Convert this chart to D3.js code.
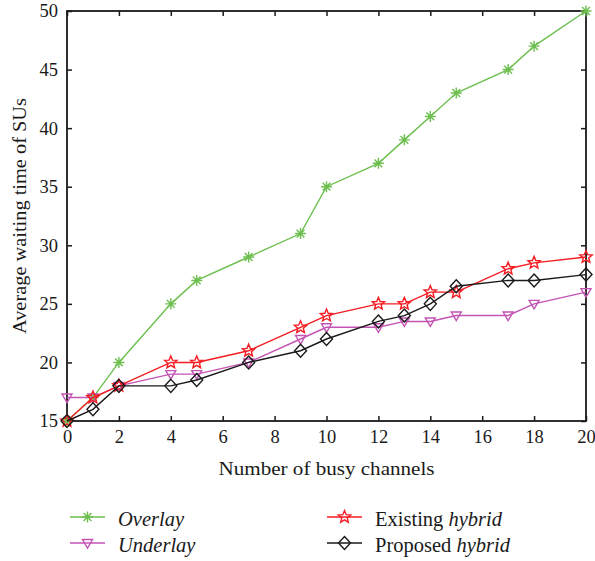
<!DOCTYPE html>
<html>
<head>
<meta charset="utf-8">
<script src="https://cdn.jsdelivr.net/npm/d3@7"></script>
<style>
  body { margin: 0; background: #fff; }
  text { font-family: "Liberation Serif", "Times New Roman", serif; fill: #1a1a1a; }
</style>
</head>
<body>
<div id="chart"></div>
<script>
// data
const channels = [0, 1, 2, 4, 5, 7, 9, 10, 12, 13, 14, 15, 17, 18, 20];
const overlay  = [15, 17, 20, 25, 27, 29, 31, 35, 37, 39, 41, 43, 45, 47, 50];
const underlay = [17, 17, 18, 19, 19, 20, 22, 23, 23, 23.5, 23.5, 24, 24, 25, 26];
const existing = [15, 17, 18, 20, 20, 21, 23, 24, 25, 25, 26, 26, 28, 28.5, 29];
const proposed = [15, 16, 18, 18, 18.5, 20, 21, 22, 23.5, 24, 25, 26.5, 27, 27, 27.5];
const xTicks = [0, 2, 4, 6, 8, 10, 12, 14, 16, 18, 20];
const yTicks = [15, 20, 25, 30, 35, 40, 45, 50];

const W = 595, H = 561;
const margin = {top: 11, right: 9, bottom: 140, left: 67};
const width = W - margin.left - margin.right;
const height = H - margin.top - margin.bottom;

const svg = d3.select("#chart").append("svg")
    .attr("width", W)
    .attr("height", H);

const g = svg.append("g")
    .attr("transform", "translate(" + margin.left + "," + margin.top + ")");

const x = d3.scaleLinear().domain([0, 20]).range([0, width]);
const y = d3.scaleLinear().domain([15, 50]).range([height, 0]);

// marker shapes
function asterisk(r) {
  let p = "";
  for (let i = 0; i < 4; i++) {
    const a = i * Math.PI / 4;
    const dx = r * Math.cos(a), dy = r * Math.sin(a);
    p += "M" + (-dx) + "," + (-dy) + "L" + dx + "," + dy;
  }
  return p;
}
function star(ro, ri) {
  const pts = [];
  for (let i = 0; i < 10; i++) {
    const r = i % 2 ? ri : ro;
    const a = -Math.PI / 2 + i * Math.PI / 5;
    pts.push([r * Math.cos(a), r * Math.sin(a)]);
  }
  return "M" + pts.join("L") + "Z";
}
const triDown = "M-5,-3.5L5,-3.5L0,5Z";
const diamond = "M0,-6.5L6,0L0,6.5L-6,0Z";

const series = [
  {name: "Overlay", values: overlay, color: "#6cbf4e", shape: asterisk(5.5)},
  {name: "Underlay", values: underlay, color: "#c354b4", shape: triDown},
  {name: "Existing", values: existing, color: "#f41c22", shape: star(6.5, 2.9)},
  {name: "Proposed", values: proposed, color: "#1a1a1a", shape: diamond}
];

// axes: ticks pointing inward on all four sides
g.append("g")
    .attr("class", "axis")
    .attr("transform", "translate(0," + height + ")")
    .call(d3.axisBottom(x).tickValues(xTicks).tickSizeInner(-5).tickSizeOuter(0).tickPadding(9));
g.append("g")
    .attr("class", "axis")
    .call(d3.axisTop(x).tickValues(xTicks).tickSizeInner(-5).tickSizeOuter(0).tickFormat(""));
g.append("g")
    .attr("class", "axis")
    .call(d3.axisLeft(y).tickValues(yTicks).tickSizeInner(-5).tickSizeOuter(0).tickPadding(9));
g.append("g")
    .attr("class", "axis")
    .attr("transform", "translate(" + width + ",0)")
    .call(d3.axisRight(y).tickValues(yTicks).tickSizeInner(-5).tickSizeOuter(0).tickFormat(""));

g.selectAll(".axis .domain").remove();
g.selectAll(".axis line").attr("stroke", "#1a1a1a").attr("stroke-width", 1.5);
g.selectAll(".axis text")
    .style("font-family", "'Liberation Serif', serif")
    .style("font-size", "18.5px")
    .attr("fill", "#1a1a1a");

// frame
g.append("rect")
    .attr("width", width)
    .attr("height", height)
    .attr("fill", "none")
    .attr("stroke", "#1a1a1a")
    .attr("stroke-width", 1.8);

const line = d3.line()
    .x(function(d, i) { return x(channels[i]); })
    .y(function(d) { return y(d); });

series.forEach(function(s) {
  g.append("path")
      .datum(s.values)
      .attr("d", line)
      .attr("fill", "none")
      .attr("stroke", s.color)
      .attr("stroke-width", 1.4);
  g.selectAll(null)
      .data(s.values)
      .enter().append("path")
      .attr("d", s.shape)
      .attr("transform", function(d, i) { return "translate(" + x(channels[i]) + "," + y(d) + ")"; })
      .attr("fill", "none")
      .attr("stroke", s.color)
      .attr("stroke-width", 1.4);
});

// axis titles
svg.append("text")
    .attr("x", margin.left + width / 2)
    .attr("y", 475)
    .attr("text-anchor", "middle")
    .attr("textLength", 216)
    .attr("lengthAdjust", "spacingAndGlyphs")
    .style("font-size", "19.5px")
    .text("Number of busy channels");

svg.append("text")
    .attr("transform", "translate(26," + (margin.top + height / 2) + ") rotate(-90)")
    .attr("text-anchor", "middle")
    .attr("textLength", 236)
    .attr("lengthAdjust", "spacingAndGlyphs")
    .style("font-size", "19.5px")
    .text("Average waiting time of SUs");

// legend
const legendPos = [[70, 517], [70, 543], [327, 517], [327, 543]];
const legendLabels = [
  [["Overlay", true]],
  [["Underlay", true]],
  [["Existing ", false], ["hybrid", true]],
  [["Proposed ", false], ["hybrid", true]]
];

series.forEach(function(s, i) {
  const lg = svg.append("g")
      .attr("transform", "translate(" + legendPos[i][0] + "," + legendPos[i][1] + ")");
  lg.append("line")
      .attr("x1", 0).attr("x2", 35)
      .attr("stroke", s.color)
      .attr("stroke-width", 1.4);
  lg.append("path")
      .attr("d", s.shape)
      .attr("transform", "translate(17.5,0)")
      .attr("fill", "none")
      .attr("stroke", s.color)
      .attr("stroke-width", 1.4);
  const t = lg.append("text")
      .attr("x", 48)
      .attr("y", 8.5)
      .style("font-size", "20.5px");
  legendLabels[i].forEach(function(part) {
    t.append("tspan")
        .style("font-style", part[1] ? "italic" : "normal")
        .text(part[0]);
  });
});
</script>
</body>
</html>
